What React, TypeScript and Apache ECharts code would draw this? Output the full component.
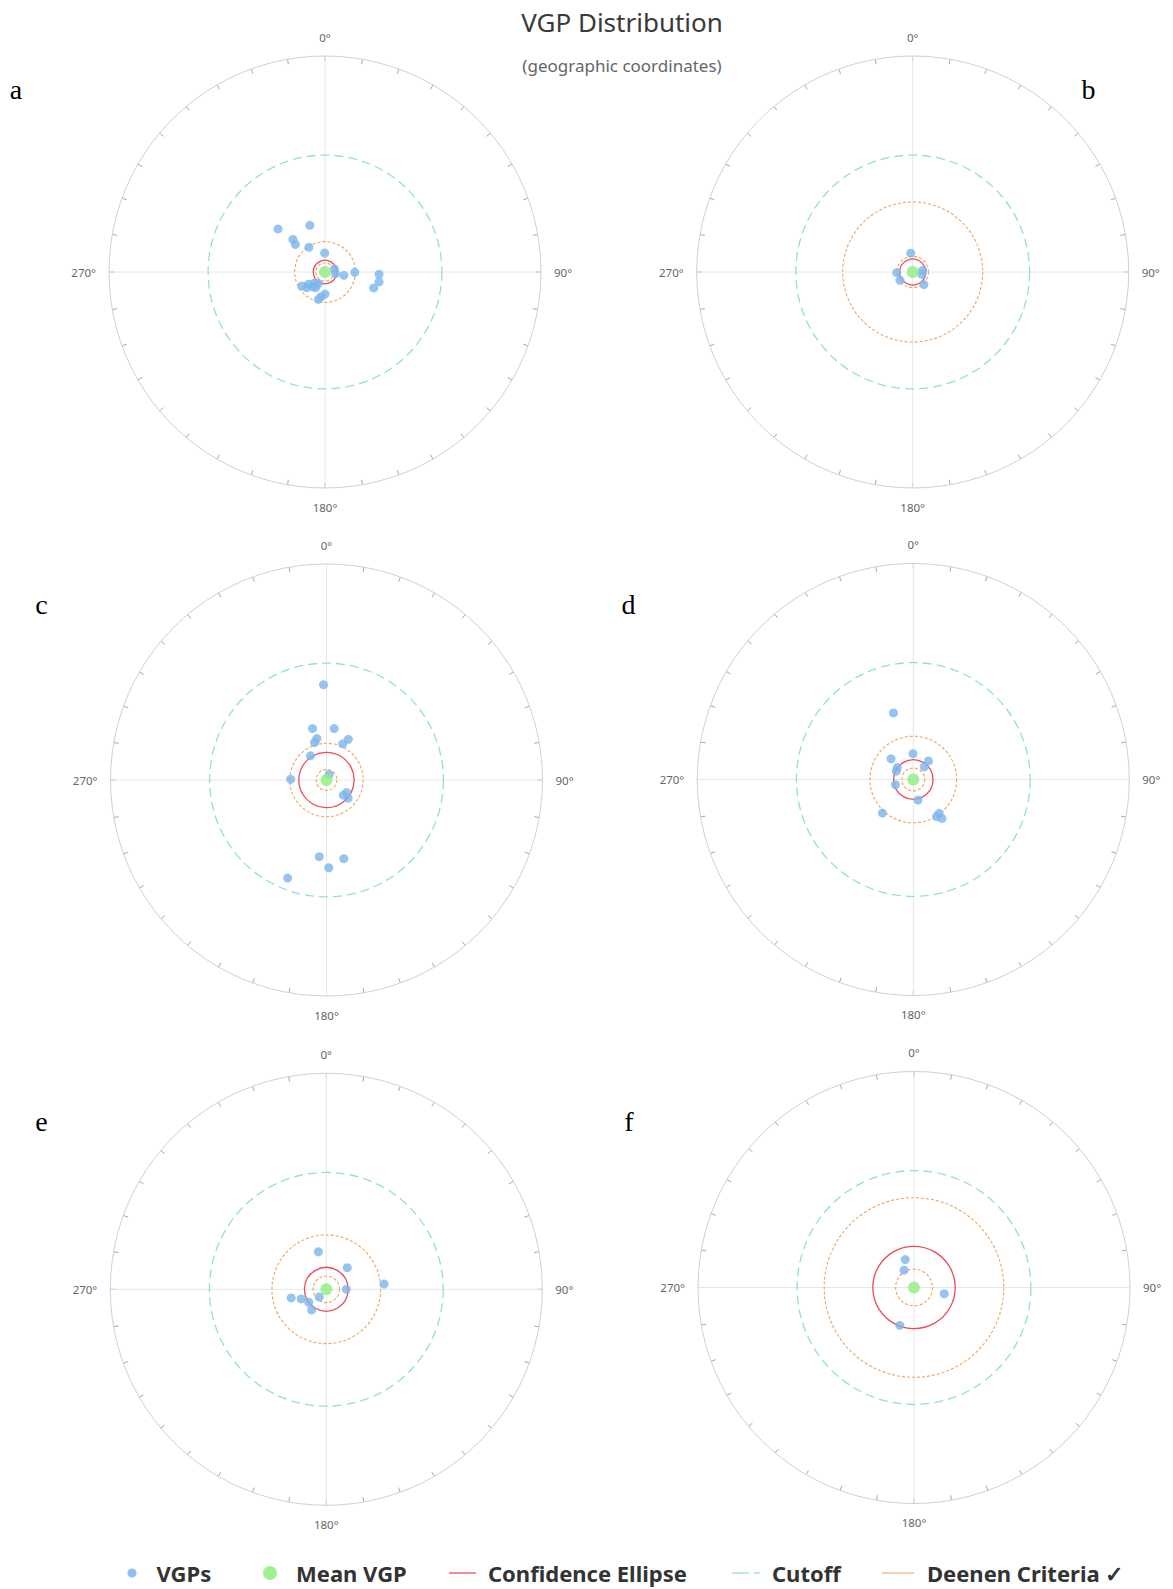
import React, { useEffect, useRef } from "react";
import * as echarts from "echarts";

// ---------- DATA (VGP longitude, VGP latitude in degrees) ----------
const panelLetters = ["a", "b", "c", "d", "e", "f"];

const vgpA = [
  [312.5, 65.9], [342.0, 71.5], [315.4, 72.8], [313.0, 74.8], [326.9, 78.9], [359.1, 82.9],
  [72.1, 86.3], [99.0, 86.0], [99.9, 82.8], [90.6, 78.8], [92.4, 69.6], [100.4, 69.3],
  [108.1, 70.7], [239.0, 79.8], [233.6, 82.3], [219.4, 82.8], [210.6, 83.2], [209.8, 85.0],
  [180.0, 81.7], [189.1, 80.6], [193.6, 79.4], [229.4, 81.0], [224.2, 84.3],
];
const vgpB = [[354.0, 82.9], [267.5, 84.0], [236.8, 84.3], [80.4, 86.2], [104.0, 86.5], [138.3, 83.7]];
const vgpC = [
  [358.2, 53.6], [344.8, 69.9], [8.5, 70.4], [346.9, 74.0], [342.3, 75.2], [28.2, 72.6],
  [24.2, 75.1], [326.6, 79.1], [271.1, 76.5], [25.3, 87.7], [132.0, 81.5], [130.1, 79.4],
  [122.0, 81.1], [185.4, 60.8], [167.6, 59.4], [178.5, 56.6], [201.6, 49.6],
];
const vgpD = [
  [343.4, 63.7], [359.3, 80.3], [312.9, 78.6], [39.3, 81.0], [40.9, 83.7], [306.9, 82.5],
  [296.0, 82.9], [253.6, 83.0], [167.2, 82.1], [222.6, 72.8], [148.0, 73.5], [142.6, 74.0],
  [143.6, 71.8],
];
const vgpE = [
  [348.0, 75.6], [44.1, 78.7], [84.8, 68.1], [90.0, 82.5], [222.3, 86.1], [256.2, 76.4],
  [249.1, 79.9], [233.7, 81.8], [215.4, 80.5],
];
const vgpF = [[342.7, 79.0], [330.0, 82.5], [101.7, 78.4], [200.6, 74.8]];
const vgpSets = [vgpA, vgpB, vgpC, vgpD, vgpE, vgpF];

const meanVgp = [0, 90]; // mean pole plotted at centre
const a95 = [4.4, 4.9, 10.4, 7.4, 8.2, 15.5]; // confidence circle (deg)
const deenenMin = [3.4, 5.9, 3.9, 4.3, 5.0, 6.9]; // A95min (deg)
const deenenMax = [11.4, 26.5, 13.8, 16.3, 20.5, 34.2]; // A95max (deg)
const cutoffAngle = 45; // cutoff (deg)
const angleLabels = ["0°", "90°", "180°", "270°"];

// ---------- LAYOUT ----------
const W = 1173;
const H = 1589;
const R = 216;
const centers = [
  [325, 272], [912.7, 272],
  [326.5, 780], [913.3, 779.5],
  [326.3, 1289.3], [914, 1287.5],
];
const letterPos = [
  [16, 89.5], [1088.5, 89.5],
  [41.5, 604.5], [628.5, 604.5],
  [41.5, 1121.5], [628.8, 1121.5],
];

const C_VGP = "#7cb5ec";
const C_MEAN = "#90ed7d";
const C_CONF = "#ec4a59";
const C_CUT = "#8fe0dc";
const C_DEEN = "#f2a35a";

// Lambert equal-area radius (0 at pole, 1 at colatitude 90)
const eqArea = (colat: number) => Math.SQRT2 * Math.sin(((colat / 2) * Math.PI) / 180);

const circleRender = (stroke: string, lineWidth: number, dash: number[] | null) =>
  (params: any, api: any) => {
    const c = api.coord([0, 0]);
    const p = api.coord([api.value(0), 0]);
    const r = Math.hypot(p[0] - c[0], p[1] - c[1]);
    return {
      type: "circle",
      shape: { cx: c[0], cy: c[1], r },
      style: { fill: "none", stroke, lineWidth, lineDash: dash || undefined },
      silent: true,
    };
  };

function buildOption() {
  const polar = centers.map((c) => ({ center: c, radius: R }));
  const angleAxis = centers.map((_, i) => ({
    polarIndex: i,
    type: "value",
    min: 0,
    max: 360,
    interval: 90,
    startAngle: 90,
    clockwise: true,
    axisLine: { show: true, lineStyle: { color: "#c8d0e6", width: 1 } },
    axisTick: { show: true, inside: true, length: 5, lineStyle: { color: "#a8a8a8", width: 1 } },
    minorTick: { show: true, splitNumber: 9, length: 5, lineStyle: { color: "#a8a8a8", width: 1 } },
    splitLine: { show: true, lineStyle: { color: "#e6e6e6", width: 1 } },
    axisLabel: {
      show: true,
      margin: 13,
      color: "#666",
      fontSize: 11.5,
      fontFamily: "Noto Sans",
      formatter: (v: number) => (v % 90 === 0 && v < 360 ? angleLabels[v / 90] : ""),
    },
  }));
  const radiusAxis = centers.map((_, i) => ({
    polarIndex: i,
    type: "value",
    min: 0,
    max: 1,
    axisLine: { show: false },
    axisTick: { show: false },
    axisLabel: { show: false },
    splitLine: { show: false },
  }));

  const series: any[] = [];
  vgpSets.forEach((set, i) => {
    series.push({
      type: "scatter",
      name: "VGPs",
      coordinateSystem: "polar",
      polarIndex: i,
      symbol: "circle",
      symbolSize: 9,
      itemStyle: { color: C_VGP },
      silent: true,
      data: set.map(([lon, lat]) => [eqArea(90 - lat), lon]),
    });
    series.push({
      type: "scatter",
      name: "Mean VGP",
      coordinateSystem: "polar",
      polarIndex: i,
      symbol: "circle",
      symbolSize: 12,
      itemStyle: { color: C_MEAN },
      silent: true,
      data: [[eqArea(90 - meanVgp[1]), meanVgp[0]]],
    });
    series.push({
      type: "custom",
      name: "Confidence Ellipse",
      coordinateSystem: "polar",
      polarIndex: i,
      itemStyle: { color: C_CONF },
      renderItem: circleRender(C_CONF, 1.3, null),
      data: [[eqArea(a95[i]), 0]],
    });
    series.push({
      type: "custom",
      name: "Cutoff",
      coordinateSystem: "polar",
      polarIndex: i,
      itemStyle: { color: C_CUT },
      renderItem: circleRender(C_CUT, 1.3, [9, 5]),
      data: [[eqArea(cutoffAngle), 0]],
    });
    series.push({
      type: "custom",
      name: "Deenen Criteria ✓",
      coordinateSystem: "polar",
      polarIndex: i,
      itemStyle: { color: C_DEEN },
      renderItem: circleRender(C_DEEN, 1.1, [3, 2]),
      data: [[eqArea(deenenMin[i]), 0], [eqArea(deenenMax[i]), 0]],
    });
  });

  const legendText = { fontSize: 22, fontWeight: "bold", color: "#333", fontFamily: "Noto Sans" };
  const legendItems = [
    { name: "VGPs", icon: "circle", left: 127.5, w: 9, h: 9, pad: 15, color: C_VGP },
    { name: "Mean VGP", icon: "circle", left: 263, w: 14, h: 14, pad: 14, color: C_MEAN },
    { name: "Confidence Ellipse", icon: "path://M0,0h27v1.5h-27z", left: 449, w: 27, h: 1.5, pad: 7, color: C_CONF },
    { name: "Cutoff", icon: "path://M0,0h17v1.5h-17zM22,0h6v1.5h-6z", left: 732, w: 28, h: 1.5, pad: 7, color: C_CUT },
    { name: "Deenen Criteria ✓", icon: "path://M0,0h32v1.2h-32z", left: 882, w: 32, h: 1.2, pad: 8, color: C_DEEN },
  ];
  const legend = legendItems.map((it) => ({
    left: it.left,
    top: 1562,
    padding: 0,
    itemWidth: it.w,
    itemHeight: it.h,
    selectedMode: false,
    data: [{ name: it.name, icon: it.icon, itemStyle: { color: it.color, opacity: 0.85 } }],
    textStyle: { ...legendText, padding: [0, 0, 0, it.pad] },
  }));

  const graphic: any[] = [
    {
      type: "text",
      x: 622,
      y: 21.6,
      style: {
        text: "VGP Distribution",
        font: '26px "Noto Sans"',
        fill: "#3a3a3a",
        align: "center",
        verticalAlign: "middle",
        textAlign: "center",
        textVerticalAlign: "middle",
      },
    },
    {
      type: "text",
      x: 622,
      y: 65,
      style: {
        text: "(geographic coordinates)",
        font: '17px "Noto Sans"',
        fill: "#666",
        align: "center",
        verticalAlign: "middle",
        textAlign: "center",
        textVerticalAlign: "middle",
      },
    },
  ];
  panelLetters.forEach((l, i) => {
    graphic.push({
      type: "text",
      x: letterPos[i][0],
      y: letterPos[i][1],
      style: {
        text: l,
        font: '28px "Liberation Serif"',
        fill: "#000",
        align: "center",
        verticalAlign: "middle",
        textAlign: "center",
        textVerticalAlign: "middle",
      },
    });
  });

  return {
    animation: false,
    backgroundColor: "#ffffff",
    polar,
    angleAxis,
    radiusAxis,
    legend,
    graphic,
    series,
  };
}

export default function App() {
  const ref = useRef<HTMLDivElement>(null);
  useEffect(() => {
    document.body.style.margin = "0";
    if (!ref.current) return;
    const chart = echarts.init(ref.current, undefined, { renderer: "svg" });
    chart.setOption(buildOption() as any);
    return () => chart.dispose();
  }, []);
  return <div ref={ref} style={{ width: W, height: H, background: "#fff" }} />;
}
